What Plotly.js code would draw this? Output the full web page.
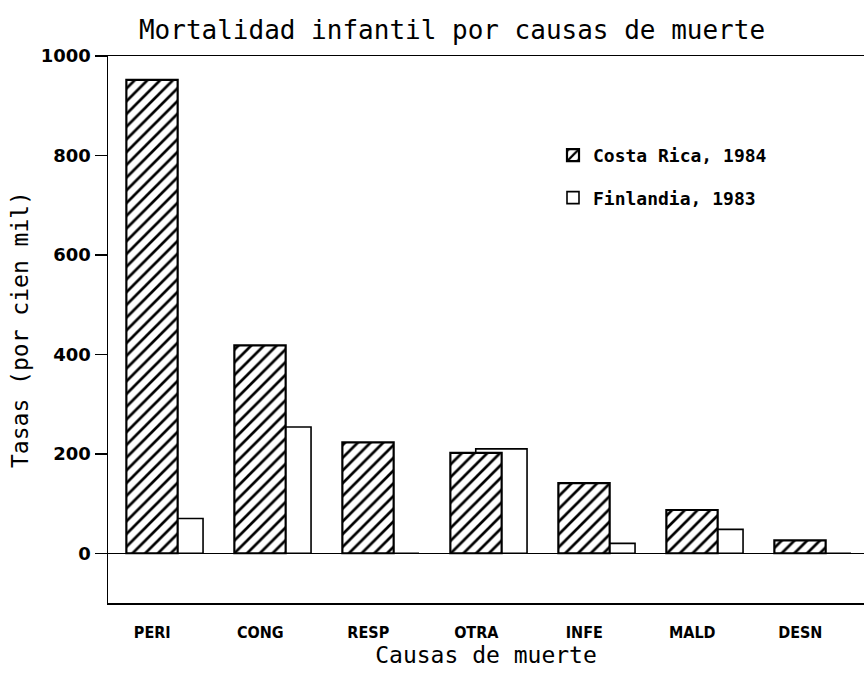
<!DOCTYPE html>
<html><head><meta charset="utf-8">
<script src="https://cdn.plot.ly/plotly-3.0.1.min.js"></script>
<style>html,body{margin:0;padding:0;background:#fff}</style>
</head><body><div id="chart" style="width:864px;height:680px"></div>
<script>
const categories = ['PERI','CONG','RESP','OTRA','INFE','MALD','DESN'];
const costaRica1984 = [952, 418, 223, 202, 141, 87, 26];
const finlandia1983 = [70, 254, 0, 210, 20, 48, 0];
const yTicks = [0, 200, 400, 600, 800, 1000];

const mono = '"DejaVu Sans Mono", "Liberation Mono", monospace';

const traces = [
  {
    type: 'bar', name: 'Finlandia, 1983', x: categories, y: finlandia1983,
    width: 0.475, offset: -0.005, legendgroup: 'fin', legendrank: 2,
    marker: {color: '#ffffff', line: {color: '#000', width: 1.6}},
    hoverinfo: 'skip'
  },
  {
    type: 'bar', name: 'Costa Rica, 1984', x: categories, y: costaRica1984,
    width: 0.475, offset: -0.24, legendgroup: 'cr', legendrank: 1,
    marker: {color: '#ffffff', line: {color: '#000', width: 2.2},
      pattern: {shape: '/', fgcolor: '#000', bgcolor: '#fff', size: 9, solidity: 0.3, fillmode: 'replace'}},
    hoverinfo: 'skip'
  }
];

const layout = {
  width: 864, height: 680,
  margin: {l: 108, r: 0, t: 56, b: 77},
  paper_bgcolor: '#fff', plot_bgcolor: '#fff',
  barmode: 'overlay',
  showlegend: true,
  title: {text: 'Mortalidad infantil por causas de muerte', x: 452/864, xanchor: 'center', xref: 'container',
    y: 1 - 30/680, yanchor: 'middle', yref: 'container',
    font: {family: mono, size: 26, color: '#000'}},
  xaxis: {
    type: 'category', range: [-0.41, 6.59], tickvals: categories, ticktext: categories,
    showgrid: false, zeroline: false, showline: true, mirror: true, linecolor: '#000', linewidth: 1.5,
    ticks: '', ticklabelstandoff: 14,
    tickfont: {family: '"Liberation Sans Narrow", "DejaVu Sans Condensed", sans-serif', size: 16, weight: 'bold', color: '#000'},
    title: {text: 'Causas de muerte', standoff: 0, font: {family: mono, size: 23, color: '#000'}}
  },
  yaxis: {
    range: [-100, 1000], tickvals: yTicks, ticktext: yTicks.map(String),
    showgrid: false, zeroline: true, zerolinecolor: '#000', zerolinewidth: 1.5,
    showline: true, linecolor: '#000', linewidth: 1.5,
    ticks: 'outside', ticklen: 12, tickwidth: 1.5, tickcolor: '#000',
    tickfont: {family: '"DejaVu Sans", sans-serif', size: 18, weight: 'bold', color: '#000'},
    title: {text: 'Tasas (por cien mil)', standoff: 5, font: {family: mono, size: 23, color: '#000'}}
  },
  legend: {
    x: (553-108)/756, xanchor: 'left', y: (603-137)/547, yanchor: 'top',
    traceorder: 'grouped', tracegroupgap: 16,
    bgcolor: 'rgba(0,0,0,0)', borderwidth: 0,
    font: {family: mono, size: 18, weight: 'bold', color: '#000'}
  }
};

Plotly.newPlot('chart', traces, layout, {staticPlot: true, displayModeBar: false});
</script>
</body></html>
